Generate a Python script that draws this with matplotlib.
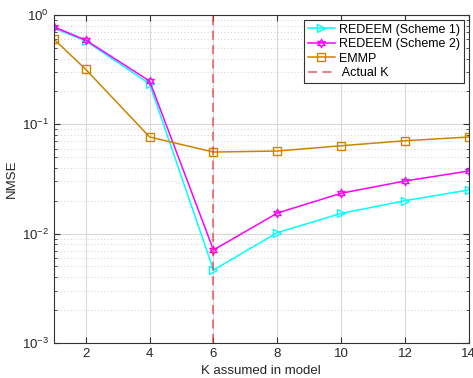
import numpy as np
import matplotlib.pyplot as plt
from matplotlib.path import Path

plt.rcParams['font.family'] = ['Liberation Sans', 'DejaVu Sans']
plt.rcParams['mathtext.default'] = 'regular'

k_vals = [1, 2, 4, 6, 8, 10, 12, 14]
scheme1 = [0.76, 0.58, 0.234, 0.00464, 0.0102, 0.0153, 0.0200, 0.0251]
scheme2 = [0.78, 0.59, 0.249, 0.00708, 0.0154, 0.0234, 0.0303, 0.0374]
emmp = [0.603, 0.318, 0.0766, 0.0558, 0.0570, 0.0637, 0.0708, 0.0766]
actual_k = 6

# estrella de seis puntas (como el hexagram de matlab)
ang = np.linspace(0, 2 * np.pi, 13)[:-1] + np.pi / 2
rad = np.where(np.arange(12) % 2 == 0, 1.0, 0.5)
verts = np.column_stack([rad * np.cos(ang), rad * np.sin(ang)])
verts = np.vstack([verts, verts[0]])
hexagram = Path(verts, closed=True)

fig = plt.figure(figsize=(4.73, 3.78), dpi=100)
ax = fig.add_axes([0.114, 0.093, 0.877, 0.867])

ax.semilogy(k_vals, scheme1, color='cyan', marker='>', markersize=5.5,
            markerfacecolor='none', linewidth=1.1, label='REDEEM (Scheme 1)')
ax.semilogy(k_vals, scheme2, color='magenta', marker=hexagram, markersize=6,
            markerfacecolor='none', linewidth=1.1, label='REDEEM (Scheme 2)')
ax.semilogy(k_vals, emmp, color='#cc8400', marker='s', markersize=5.5,
            markerfacecolor='none', linewidth=1.1, label='EMMP')
ax.axvline(actual_k, color='#e8383a', linestyle=(0, (5, 3)), linewidth=1.3,
           alpha=0.7, label=' Actual K')

ax.set_xlim(1, 14)
ax.set_ylim(1e-3, 1)
ax.set_xticks([2, 4, 6, 8, 10, 12, 14])
ax.set_yticks([1e-3, 1e-2, 1e-1, 1])

ax.grid(True, which='major', color='0.85', linewidth=0.8)
ax.grid(True, which='minor', axis='y', color='0.75', linestyle=(0, (1, 3)), linewidth=0.6)
ax.tick_params(which='both', direction='in', top=True, right=True, labelsize=9.5,
               color='0.2', labelcolor='0.15')
ax.tick_params(which='major', length=4)
ax.tick_params(which='minor', length=2)
for sp in ax.spines.values():
    sp.set_color('0.2')
    sp.set_linewidth(0.8)

ax.set_xlabel('K assumed in model', fontsize=9.5, color='0.15', labelpad=4)
ax.set_ylabel('NMSE', fontsize=9.5, color='0.15', labelpad=3)

leg = ax.legend(loc='upper right', fontsize=9, frameon=True, fancybox=False,
                edgecolor='0.2', framealpha=1, borderpad=0.3, labelspacing=0.2,
                handlelength=2.2, handletextpad=0.3, borderaxespad=0.4)
leg.get_frame().set_linewidth(0.8)

fig.savefig('out.png', dpi=100)
plt.close()
